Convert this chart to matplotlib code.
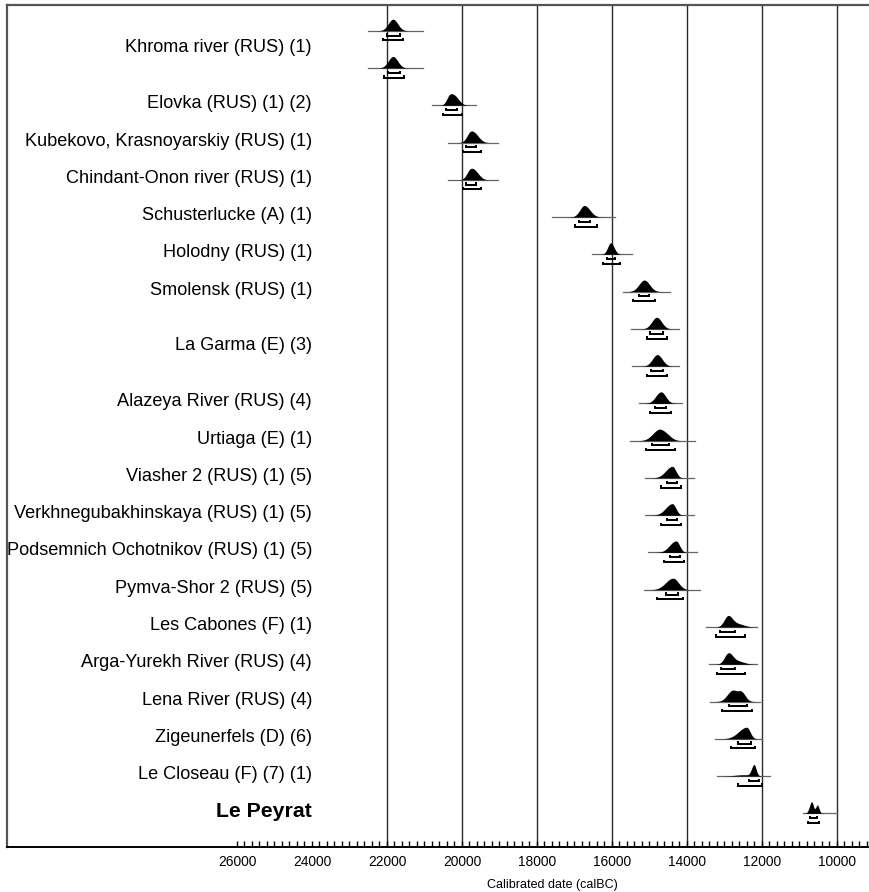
import numpy as np
import matplotlib
matplotlib.use("Agg")
import matplotlib.pyplot as plt

plt.rcParams['font.family'] = ['Liberation Sans', 'DejaVu Sans']

# ---------------- data ----------------
sites = ["Khroma river (RUS) (1)", "Elovka (RUS) (1) (2)",
         "Kubekovo, Krasnoyarskiy (RUS) (1)", "Chindant-Onon river (RUS) (1)",
         "Schusterlucke (A) (1)", "Holodny (RUS) (1)", "Smolensk (RUS) (1)",
         "La Garma (E) (3)", "Alazeya River (RUS) (4)", "Urtiaga (E) (1)",
         "Viasher 2 (RUS) (1) (5)", "Verkhnegubakhinskaya (RUS) (1) (5)",
         "Podsemnich Ochotnikov (RUS) (1) (5)", "Pymva-Shor 2 (RUS) (5)",
         "Les Cabones (F) (1)", "Arga-Yurekh River (RUS) (4)",
         "Lena River (RUS) (4)", "Zigeunerfels (D) (6)",
         "Le Closeau (F) (7) (1)", "Le Peyrat"]

# which site each calibrated distribution belongs to
dist_site = [0, 0, 1, 2, 3, 4, 5, 6, 7, 7, 8, 9, 10, 11, 12, 13, 14, 15, 16, 17, 18, 19]

# main component of each distribution (calBC)
peak    = [21840, 21840, 20320, 19768, 19768, 16739, 16035, 15139, 14808, 14792, 14693,
           14800, 14392, 14392, 14293, 14373, 12907, 12899, 12800, 12408, 12213, 10675]
sd_old  = [125, 125, 85, 100, 100, 120, 80, 140, 130, 130, 140,
           160, 175, 175, 170, 195, 105, 105, 135, 215, 65, 60]
sd_young = [125, 125, 130, 125, 125, 150, 90, 140, 130, 130, 125,
            125, 95, 95, 95, 145, 115, 115, 105, 90, 55, 45]
# second component (weight 0 = none)
c2_center = [0, 0, 20150, 19600, 19600, 0, 0, 0, 0, 0, 0,
             14600, 0, 0, 0, 0, 12650, 12650, 12560, 0, 12500, 10525]
c2_sd     = [1, 1, 110, 110, 110, 1, 1, 1, 1, 1, 1,
             150, 1, 1, 1, 1, 170, 170, 110, 1, 220, 45]
c2_weight = [0, 0, 0.45, 0.35, 0.35, 0, 0, 0, 0, 0, 0,
             0.95, 0, 0, 0, 0, 0.30, 0.30, 0.95, 0, 0.12, 0.72]

# extent of the thin base line
base_old   = [22507, 22507, 20800, 20381, 20381, 17608, 16525, 15715, 15493, 15460, 15293,
              15520, 15120, 15120, 15040, 15150, 13493, 13405, 13387, 13253, 13208, 10915]
base_young = [21040, 21040, 19627, 19032, 19032, 15920, 15475, 14453, 14213, 14213, 14125,
              13787, 13813, 13813, 13733, 13650, 12133, 12125, 12053, 12008, 11787, 10008]

# 68.2 % and 95.4 % ranges
s1_old   = [22008, 21960, 20435, 19899, 19899, 16872, 16136, 15267, 14987, 14968, 14853,
            14941, 14541, 14541, 14441, 14550, 13120, 13101, 12880, 12632, 12339, 10720]
s1_young = [21653, 21653, 20125, 19627, 19627, 16587, 15920, 15000, 14632, 14648, 14568,
            14493, 14275, 14275, 14175, 14250, 12720, 12720, 12408, 12301, 12072, 10525]
s2_old   = [22107, 22072, 20499, 19981, 19981, 16987, 16227, 15427, 15075, 15059, 14987,
            15093, 14701, 14701, 14601, 14800, 13227, 13192, 13075, 12835, 12632, 10765]
s2_young = [21573, 21547, 20008, 19501, 19501, 16408, 15787, 14853, 14541, 14541, 14435,
            14333, 14168, 14168, 14068, 14100, 12453, 12453, 12275, 12187, 12008, 10472]

grid_years = [22000, 20000, 18000, 16000, 14000, 12000, 10000]
tick_years = [26000, 24000, 22000, 20000, 18000, 16000, 14000, 12000, 10000]

# ---------------- figure ----------------
W, H = 870, 892
fig = plt.figure(figsize=(W / 100, H / 100), dpi=100)
ax = fig.add_axes([7 / W, 1 - 847 / H, (W - 7) / W, (847 - 5) / H])
ax.set_xlim(32133, 9120)
ax.set_ylim(21.904, -0.69)

for g in grid_years:
    ax.axvline(g, color='#2a2a2a', lw=1.0, zorder=1)

h = 0.31      # peak height (row units)
off1, off2, tk = 0.13, 0.26, 0.06

for i in range(len(peak)):
    y = float(i)
    xs = np.linspace(base_old[i], base_young[i], 800)
    d = np.where(xs > peak[i],
                 np.exp(-0.5 * ((xs - peak[i]) / sd_old[i]) ** 2),
                 np.exp(-0.5 * ((xs - peak[i]) / sd_young[i]) ** 2))
    d = d + c2_weight[i] * np.exp(-0.5 * ((xs - c2_center[i]) / c2_sd[i]) ** 2)
    d = d / d.max()
    ax.fill_between(xs, y, y - h * d, color='black', lw=0, zorder=3)
    ax.plot([base_old[i], base_young[i]], [y, y], color='#666666', lw=0.9, zorder=2)
    for a, b, o in ((s1_old[i], s1_young[i], off1), (s2_old[i], s2_young[i], off2)):
        ax.plot([a, a, b, b], [y + o - tk, y + o, y + o, y + o - tk],
                color='black', lw=1.45, solid_joinstyle='miter',
                solid_capstyle='butt', zorder=3)

# site labels
for s, name in enumerate(sites):
    rows = [i for i, d_ in enumerate(dist_site) if d_ == s]
    yc = np.mean(rows) - 0.04
    if name == "Le Peyrat":
        ax.text(24000, yc, name, ha='right', va='center', fontsize=15.3,
                fontweight='bold')
    else:
        ax.text(24000, yc, name, ha='right', va='center', fontsize=13.1)

# axes styling
ax.spines['right'].set_visible(False)
for sp in ('top', 'left'):
    ax.spines[sp].set_color('#555555')
    ax.spines[sp].set_linewidth(1.6)
ax.spines['bottom'].set_color('black')
ax.spines['bottom'].set_linewidth(1.4)
ax.set_yticks([])
ax.set_xticks(tick_years)
ax.set_xticklabels([str(t) for t in tick_years], fontsize=9.9)
ax.set_xticks(np.arange(26000, 9100, -200), minor=True)
ax.tick_params(axis='x', which='both', direction='in', length=4, width=1.0,
               color='black', pad=6)
fig.text(552 / W, 1 - 885 / H, "Calibrated date (calBC)", ha='center', va='center',
         fontsize=9)

fig.savefig("out.png", dpi=100)
